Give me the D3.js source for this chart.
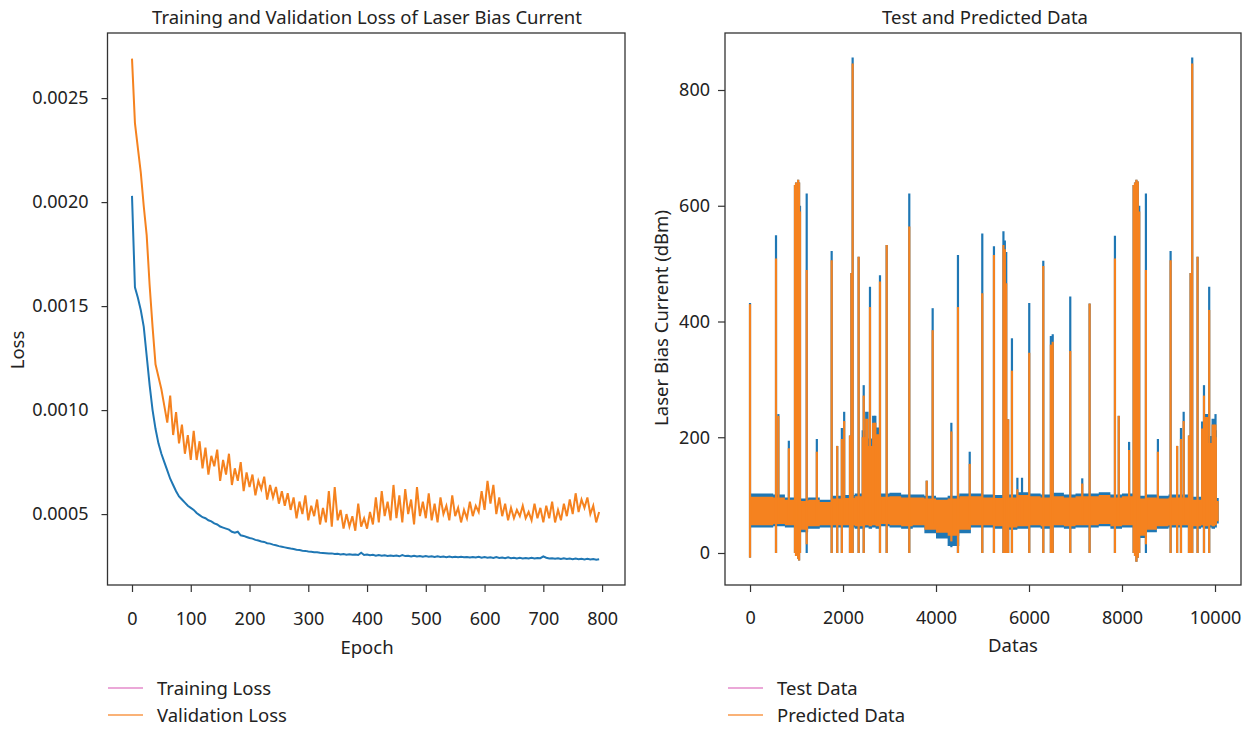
<!DOCTYPE html>
<html>
<head>
<meta charset="utf-8">
<script src="https://cdn.jsdelivr.net/npm/d3@7"></script>
<style>
  body { margin: 0; background: #fff; }
  text { font-family: "Noto Sans", sans-serif; fill: #222; }
</style>
</head>
<body>
<div id="chart"></div>
<script>
// ---- left panel: loss per epoch (every 5th epoch, values in units of 1e-4) ----
var lossEpochs = d3.range(0, 800, 5);
var trainLoss = [
  20.3, 15.9, 15.4, 14.8, 14.0, 12.6, 11.2, 10.0, 9.1, 8.4,
  7.9, 7.5, 7.1, 6.7, 6.4, 6.1, 5.85, 5.7, 5.55, 5.4,
  5.3, 5.2, 5.05, 4.95, 4.85, 4.8, 4.7, 4.65, 4.55, 4.5,
  4.4, 4.35, 4.3, 4.25, 4.15, 4.1, 4.15, 3.98, 3.95, 3.9,
  3.85, 3.82, 3.76, 3.73, 3.68, 3.66, 3.6, 3.58, 3.53, 3.5,
  3.46, 3.43, 3.4, 3.37, 3.34, 3.32, 3.29, 3.27, 3.24, 3.23,
  3.2, 3.19, 3.17, 3.16, 3.14, 3.13, 3.12, 3.1, 3.11, 3.08,
  3.09, 3.06, 3.08, 3.05, 3.07, 3.04, 3.06, 3.03, 3.14, 3.03,
  3.05, 3.02, 3.04, 3.0, 3.03, 3.0, 3.02, 2.99, 3.01, 2.98,
  3.01, 2.97, 3.03, 2.98, 3.0, 2.96, 2.99, 2.96, 2.98, 2.95,
  2.98, 2.95, 2.97, 2.94, 2.97, 2.94, 2.96, 2.93, 2.96, 2.93,
  2.95, 2.92, 2.95, 2.92, 2.94, 2.91, 2.94, 2.91, 2.95, 2.9,
  2.93, 2.9, 2.92, 2.89, 2.93, 2.89, 2.91, 2.88, 2.92, 2.88,
  2.9, 2.87, 2.9, 2.87, 2.89, 2.86, 2.9, 2.86, 2.89, 2.88,
  2.97, 2.9, 2.86, 2.88, 2.85, 2.88, 2.84, 2.87, 2.84, 2.86,
  2.83, 2.86, 2.83, 2.85, 2.82, 2.85, 2.82, 2.84, 2.81, 2.83
];
var valLoss = [
  26.9, 23.8, 22.6, 21.4, 19.8, 18.4, 16.0, 14.0, 12.2, 11.6,
  11.0, 10.2, 9.4, 10.7, 8.8, 9.9, 8.4, 9.3, 7.9, 8.8,
  7.6, 9.0, 7.6, 8.5, 7.2, 8.2, 6.9, 7.8, 7.3, 8.1,
  6.6, 7.6, 6.9, 7.9, 6.4, 7.2, 6.6, 7.5, 6.1, 7.0,
  6.3, 6.9, 5.9, 6.6, 6.2, 6.8, 5.7, 6.4, 5.8, 6.3,
  5.5, 6.1, 5.4, 6.0, 5.2, 5.8, 4.8, 5.6, 5.0, 5.9,
  4.7, 5.4, 4.9, 5.7, 4.5, 5.3, 4.6, 6.1, 4.4, 6.3,
  4.7, 5.2, 4.3, 5.0, 4.4, 4.9, 4.2, 5.5, 4.4, 4.8,
  4.3, 5.1, 4.5, 5.8, 4.6, 6.1, 4.9, 5.6, 4.7, 6.4,
  4.8, 5.9, 4.6, 6.2, 5.0, 5.7, 4.5, 6.3, 4.9, 5.6,
  4.8, 6.0, 4.7, 5.5, 4.6, 5.8, 5.0, 5.4, 4.7, 5.9,
  4.9, 5.3, 4.6, 5.2, 4.8, 5.6, 4.9, 5.4, 5.1, 6.1,
  5.2, 6.6, 5.5, 6.4, 5.0, 5.8, 4.9, 5.5, 4.7, 5.3,
  4.8, 5.2, 4.9, 5.4, 4.8, 5.1, 4.7, 5.5, 4.8, 5.3,
  4.6, 5.4, 4.8, 5.6, 4.6, 5.2, 4.7, 5.5, 4.9, 5.7,
  5.0, 6.0, 5.1, 5.7, 5.3, 5.8, 5.0, 5.4, 4.6, 5.1
];
var epochTicks = [0, 100, 200, 300, 400, 500, 600, 700, 800];
var lossTicks = [0.0005, 0.0010, 0.0015, 0.0020, 0.0025];

// ---- right panel: test vs predicted ----
// dense background band (step positions), low/high of each series
var bandX = [0, 250, 500, 750, 1000, 1250, 1500, 1750, 2000, 2250,
  2400, 2475, 2550, 2625, 2700, 2775,
  3000, 3250, 3500, 3750, 4000, 4250, 4500, 4750, 5000, 5250,
  5500, 5750, 6000, 6250, 6500, 6750, 7000, 7250, 7500, 7750,
  8000, 8250, 8500, 8750, 9000, 9250, 9500,
  9700, 9775, 9850, 9925, 10000, 10040, 10080];
var predHigh = [97, 97, 96, 92, 90, 92, 88, 94, 95, 98,
  200, 232, 185, 225, 205, 97,
  98, 96, 96, 94, 92, 94, 98, 98, 96, 95,
  96, 100, 98, 96, 98, 96, 98, 98, 100, 96,
  98, 94, 96, 94, 96, 96, 92,
  215, 235, 190, 222, 200, 90, 90];
var testHigh = [103, 103, 101, 96, 94, 96, 92, 99, 100, 103,
  212, 244, 198, 237, 217, 103,
  104, 101, 101, 99, 96, 99, 103, 103, 101, 100,
  101, 105, 103, 101, 104, 101, 103, 103, 105, 101,
  103, 99, 101, 99, 101, 101, 97,
  227, 240, 202, 232, 212, 95, 95];
var predLow = [48, 48, 50, 48, 40, 46, 48, 48, 48, 46,
  46, 48, 46, 48, 46, 50,
  48, 46, 48, 40, 35, 30, 40, 48, 48, 46,
  44, 46, 48, 46, 48, 46, 48, 48, 50, 46,
  48, 30, 40, 46, 48, 48, 46,
  48, 46, 48, 46, 48, 55, 55];
var testLow = [44, 44, 46, 44, 36, 42, 44, 44, 44, 42,
  42, 44, 42, 44, 42, 46,
  44, 42, 44, 34, 25, 12, 34, 44, 44, 42,
  40, 42, 44, 42, 44, 42, 44, 44, 46, 42,
  44, 26, 36, 42, 44, 44, 42,
  44, 42, 44, 42, 44, 51, 51];

// isolated spikes: position, peak of each series, bottom of each series
var spikeX = [0, 559, 610, 835, 967, 990, 1010, 1035, 1055, 1075, 1219, 1437, 1756, 1875,
  1975, 2025, 2150, 2180, 2207, 2336, 2445, 2580, 2695, 2795, 2939, 3425, 3800, 3928,
  4330, 4472, 4725, 4995, 5246, 5450, 5480, 5510, 5551, 5633, 5750, 5850, 6005, 6307,
  6470, 6510, 6887, 7145, 7303, 7848, 7930, 8153, 8250, 8280, 8310, 8340, 8370, 8514,
  8772, 9045, 9185, 9268, 9326, 9440, 9475, 9510, 9625, 9763, 9875, 10011];
var spikeTest = [432, 549, 240, 194, 636, 640, 632, 645, 640, 600, 621, 197, 522, 185,
  216, 244, 203, 484, 856, 512, 290, 460, 237, 480, 532, 621, 125, 423,
  225, 515, 175, 552, 530, 556, 540, 520, 231, 371, 130, 130, 432, 505,
  375, 378, 443, 129, 431, 548, 237, 192, 636, 640, 645, 642, 600, 621,
  197, 522, 185, 216, 244, 203, 484, 856, 512, 290, 460, 240];
var spikePred = [430, 509, 237, 181, 636, 640, 630, 645, 640, 590, 489, 175, 506, 185,
  197, 228, 203, 484, 846, 512, 272, 425, 225, 469, 532, 564, 125, 385,
  210, 425, 154, 449, 515, 532, 525, 466, 231, 315, 110, 100, 346, 496,
  360, 365, 349, 120, 431, 509, 237, 178, 636, 640, 645, 642, 590, 489,
  175, 506, 185, 197, 228, 203, 484, 846, 512, 272, 420, 222];
var spikeLowTest = [-8, 0, 50, 50, 0, -5, 0, -10, -13, 0, 0, 50, 0, 0,
  0, 50, 0, 0, 0, 0, 0, 50, 50, 0, 0, 0, 50, 50,
  10, 0, 50, 0, 0, 0, 0, 0, 0, 0, 50, 50, 0, 0,
  0, 0, 0, 50, 0, 0, 50, 50, 0, -5, -15, -8, 0, 0,
  50, 0, 0, 0, 50, 0, 0, 0, 0, 0, 0, 50];
var spikeLowPred = [-8, 0, 50, 50, 0, -5, 0, -10, -13, 0, 15, 50, 0, 0,
  0, 50, 0, 0, 0, 0, 0, 50, 50, 0, 0, 0, 50, 50,
  20, 0, 50, 0, 0, 0, 0, 0, 0, 0, 50, 50, 0, 0,
  0, 0, 0, 50, 0, 0, 50, 50, 0, -5, -15, -8, 0, 15,
  50, 0, 0, 0, 50, 0, 0, 0, 0, 0, 0, 50];
var dataTicks = [0, 2000, 4000, 6000, 8000, 10000];
var currentTicks = [0, 200, 400, 600, 800];

var blue = "#1f77b4", orange = "#f5821f";

var svg = d3.select("#chart").append("svg")
  .attr("width", 1260).attr("height", 729)
  .style("background", "#fff");

function frame(g, x0, y0, w, h) {
  g.append("rect")
    .attr("x", x0).attr("y", y0).attr("width", w).attr("height", h)
    .attr("fill", "none").attr("stroke", "#333").attr("stroke-width", 1.3);
}

function styleAxis(sel, size) {
  sel.select(".domain").remove();
  sel.selectAll(".tick line").attr("stroke", "#333").attr("stroke-width", 1.2);
  sel.selectAll(".tick text").style("font-size", size + "px").attr("fill", "#222");
}

// ---------------- left panel ----------------
var L = {left: 107.5, right: 625, top: 33, bottom: 585};

var xL = d3.scaleLinear().domain([-41.7, 839]).range([L.left, L.right]);
var yL = d3.scaleLinear().domain([0.000159, 0.002813]).range([L.bottom, L.top]);

var trainPts = lossEpochs.map(function(e, i) { return [e, trainLoss[i] * 1e-4]; });
var valPts = lossEpochs.map(function(e, i) { return [e, valLoss[i] * 1e-4]; });

var lineL = d3.line()
  .x(function(d) { return xL(d[0]); })
  .y(function(d) { return yL(d[1]); });

svg.append("path").datum(trainPts)
  .attr("fill", "none").attr("stroke", blue).attr("stroke-width", 2)
  .attr("d", lineL);
svg.append("path").datum(valPts)
  .attr("fill", "none").attr("stroke", orange).attr("stroke-width", 2)
  .attr("d", lineL);

frame(svg, L.left, L.top, L.right - L.left, L.bottom - L.top);

svg.append("g")
  .attr("transform", "translate(0," + L.bottom + ")")
  .call(d3.axisBottom(xL).tickValues(epochTicks).tickSize(7).tickPadding(20))
  .call(styleAxis, 18);

svg.append("g")
  .attr("transform", "translate(" + L.left + ",0)")
  .call(d3.axisLeft(yL).tickValues(lossTicks).tickSize(6).tickPadding(13)
    .tickFormat(d3.format(".4f")))
  .call(styleAxis, 18);

svg.append("text").attr("x", 367).attr("y", 24).attr("text-anchor", "middle")
  .style("font-size", "18.5px").text("Training and Validation Loss of Laser Bias Current");
svg.append("text").attr("x", 367).attr("y", 654).attr("text-anchor", "middle")
  .style("font-size", "18.5px").text("Epoch");
svg.append("text").attr("transform", "translate(24,350) rotate(-90)")
  .attr("text-anchor", "middle").style("font-size", "18.5px").text("Loss");

// ---------------- right panel ----------------
var R = {left: 725, right: 1241, top: 33, bottom: 585};

var xR = d3.scaleLinear().domain([-538, 10559]).range([R.left, R.right]);
var yR = d3.scaleLinear().domain([-55.3, 898.5]).range([R.bottom, R.top]);

var band = bandX.map(function(x, i) {
  return {x: x, tH: testHigh[i], tL: testLow[i], pH: predHigh[i], pL: predLow[i]};
});
var spikes = spikeX.map(function(x, i) {
  return {x: x, t: spikeTest[i], p: spikePred[i], tl: spikeLowTest[i], pl: spikeLowPred[i]};
});

var testArea = d3.area().curve(d3.curveStepAfter)
  .x(function(d) { return xR(d.x); })
  .y0(function(d) { return yR(d.tL); })
  .y1(function(d) { return yR(d.tH); });
var predArea = d3.area().curve(d3.curveStepAfter)
  .x(function(d) { return xR(d.x); })
  .y0(function(d) { return yR(d.pL); })
  .y1(function(d) { return yR(d.pH); });

svg.append("path").datum(band).attr("fill", blue).attr("d", testArea);
svg.append("g").selectAll("line").data(spikes).enter().append("line")
  .attr("x1", function(d) { return xR(d.x); })
  .attr("x2", function(d) { return xR(d.x); })
  .attr("y1", function(d) { return yR(d.tl); })
  .attr("y2", function(d) { return yR(d.t); })
  .attr("stroke", blue).attr("stroke-width", 2.2);

svg.append("path").datum(band).attr("fill", orange).attr("d", predArea);
svg.append("g").selectAll("line").data(spikes).enter().append("line")
  .attr("x1", function(d) { return xR(d.x); })
  .attr("x2", function(d) { return xR(d.x); })
  .attr("y1", function(d) { return yR(d.pl); })
  .attr("y2", function(d) { return yR(d.p); })
  .attr("stroke", orange).attr("stroke-width", 2.2);

frame(svg, R.left, R.top, R.right - R.left, R.bottom - R.top);

svg.append("g")
  .attr("transform", "translate(0," + R.bottom + ")")
  .call(d3.axisBottom(xR).tickValues(dataTicks).tickSize(7).tickPadding(19)
    .tickFormat(d3.format("d")))
  .call(styleAxis, 18);

svg.append("g")
  .attr("transform", "translate(" + R.left + ",0)")
  .call(d3.axisLeft(yR).tickValues(currentTicks).tickSize(7).tickPadding(8))
  .call(styleAxis, 18);

svg.append("text").attr("x", 985).attr("y", 24).attr("text-anchor", "middle")
  .style("font-size", "18.5px").text("Test and Predicted Data");
svg.append("text").attr("x", 1013).attr("y", 652).attr("text-anchor", "middle")
  .style("font-size", "18.5px").text("Datas");
svg.append("text").attr("transform", "translate(668,318) rotate(-90)")
  .attr("text-anchor", "middle").style("font-size", "18.5px").text("Laser Bias Current (dBm)");

// ---------------- legends ----------------
var legends = [
  {x: 108, items: ["Training Loss", "Validation Loss"]},
  {x: 728, items: ["Test Data", "Predicted Data"]}
];
var legendColors = ["#e58bcb", "#f8994a"];

legends.forEach(function(lg) {
  lg.items.forEach(function(name, i) {
    var y = 688 + i * 27;
    svg.append("line")
      .attr("x1", lg.x).attr("x2", lg.x + 35).attr("y1", y).attr("y2", y)
      .attr("stroke", legendColors[i]).attr("stroke-width", 1.6);
    svg.append("text").attr("x", lg.x + 49).attr("y", y + 7)
      .style("font-size", "18.5px").text(name);
  });
});
</script>
</body>
</html>
